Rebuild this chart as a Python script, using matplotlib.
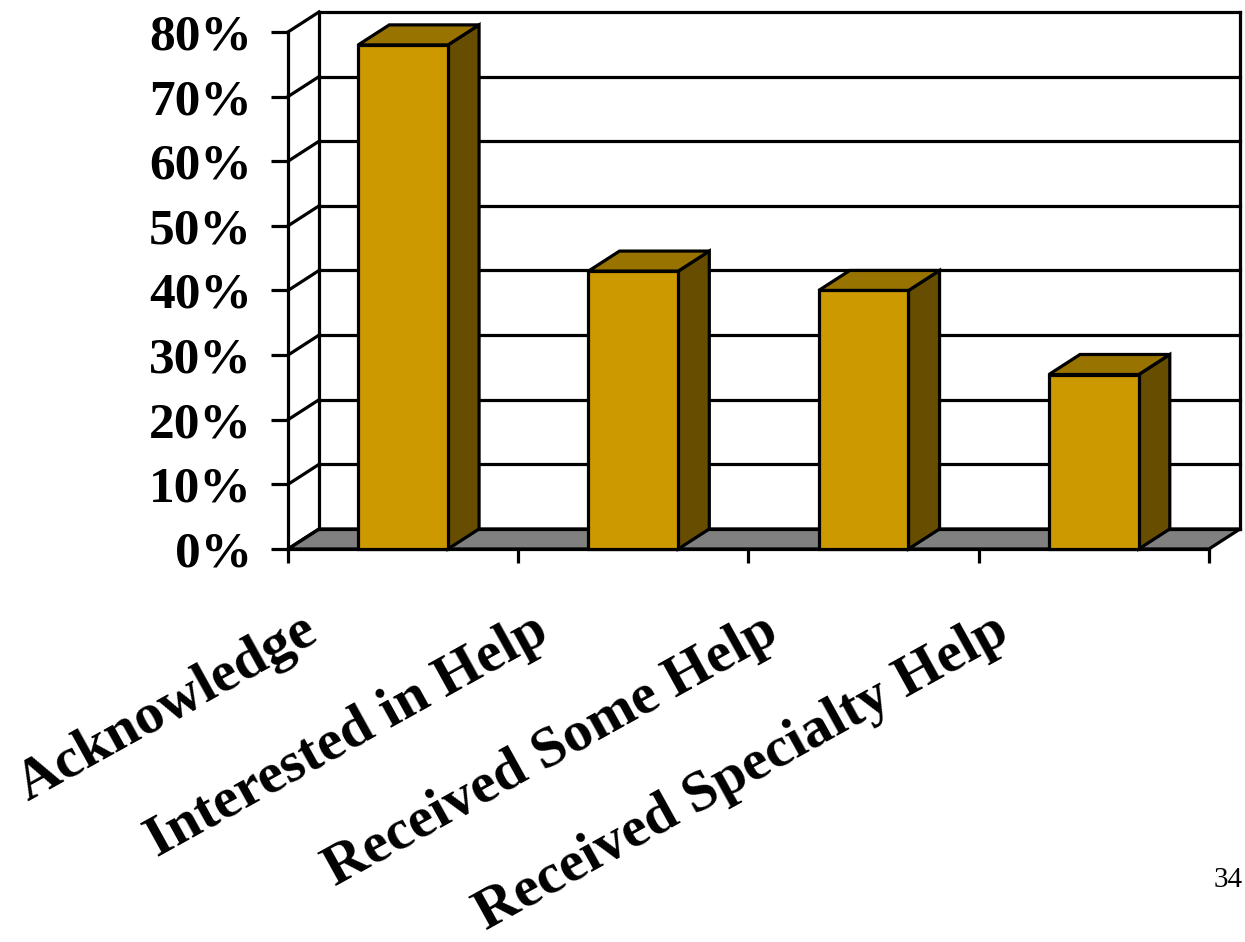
import matplotlib
matplotlib.use('Agg')
import matplotlib.pyplot as plt
from matplotlib.patches import Polygon

plt.rcParams['font.family'] = ['Liberation Serif', 'DejaVu Serif']

categories = ['Acknowledge', 'Interested in Help', 'Received Some Help',
              'Received Specialty Help']
percents = [78, 43, 40, 27]
yticks = [0, 10, 20, 30, 40, 50, 60, 70, 80]
ytick_labels = ['%d%%' % t for t in yticks]
page_no = '34'

# depth of the pseudo-3D box, in data units
DX = 0.135
DY = 3.1
bar_w = 0.39
lw = 2.3

front_col = '#CC9900'
top_col = '#997300'
side_col = '#664D00'
floor_col = '#808080'

n = len(categories)
ymax = yticks[-1]

fig = plt.figure(figsize=(12.45, 9.42), dpi=100)
ax = fig.add_axes([0.2313, 0.4172, 0.7647, 0.5701])
ax.set_xlim(0, n + DX)
ax.set_ylim(0, ymax + DY)
ax.patch.set_visible(False)

# floor
ax.add_patch(Polygon([(0, 0), (n, 0), (n + DX, DY), (DX, DY)], closed=True,
                     fc=floor_col, ec='black', lw=lw, zorder=1, clip_on=False))

# gridlines on the back wall and on the left side wall
for t in yticks:
    ax.plot([DX, n + DX], [t + DY, t + DY], color='black', lw=lw, zorder=1,
            clip_on=False, solid_capstyle='projecting')
    ax.plot([0, DX], [t, t + DY], color='black', lw=lw, zorder=1, clip_on=False)
ax.plot([DX, DX], [DY, ymax + DY], color='black', lw=lw, zorder=1, clip_on=False)
ax.plot([n + DX, n + DX], [DY, ymax + DY], color='black', lw=lw, zorder=1,
        clip_on=False, solid_capstyle='projecting')

# bars: front face, top and right side
for i, v in enumerate(percents):
    x0 = i + 0.5 - bar_w / 2
    x1 = x0 + bar_w
    front = [(x0, 0), (x1, 0), (x1, v), (x0, v)]
    top = [(x0, v), (x1, v), (x1 + DX, v + DY), (x0 + DX, v + DY)]
    side = [(x1, 0), (x1 + DX, DY), (x1 + DX, v + DY), (x1, v)]
    for pts, col in ((side, side_col), (top, top_col), (front, front_col)):
        ax.add_patch(Polygon(pts, closed=True, fc=col, ec='black', lw=lw,
                             joinstyle='miter', zorder=3, clip_on=False))

# axes
for s in ('top', 'right'):
    ax.spines[s].set_visible(False)
ax.spines['left'].set_bounds(0, ymax)
ax.spines['bottom'].set_bounds(0, n)
ax.spines['left'].set_linewidth(lw)
ax.spines['bottom'].set_linewidth(lw)
ax.set_yticks(yticks)
ax.set_yticklabels(ytick_labels)
ax.set_xticks(range(n + 1))
ax.set_xticklabels([])
ax.tick_params(axis='y', length=12, width=lw, pad=14, labelsize=37)
ax.tick_params(axis='x', length=10, width=lw)
for lab in ax.get_yticklabels():
    lab.set_fontweight('bold')

# slanted category names
for i, cat in enumerate(categories):
    ax.text(i + 0.5 - 0.36, -14.0, cat, rotation=29, rotation_mode='anchor',
            ha='right', va='baseline', fontsize=42, fontweight='bold',
            clip_on=False)

fig.text(0.998, 1 - 880 / 942, page_no, ha='right', va='center', fontsize=21)

fig.savefig('out.png', dpi=100)
